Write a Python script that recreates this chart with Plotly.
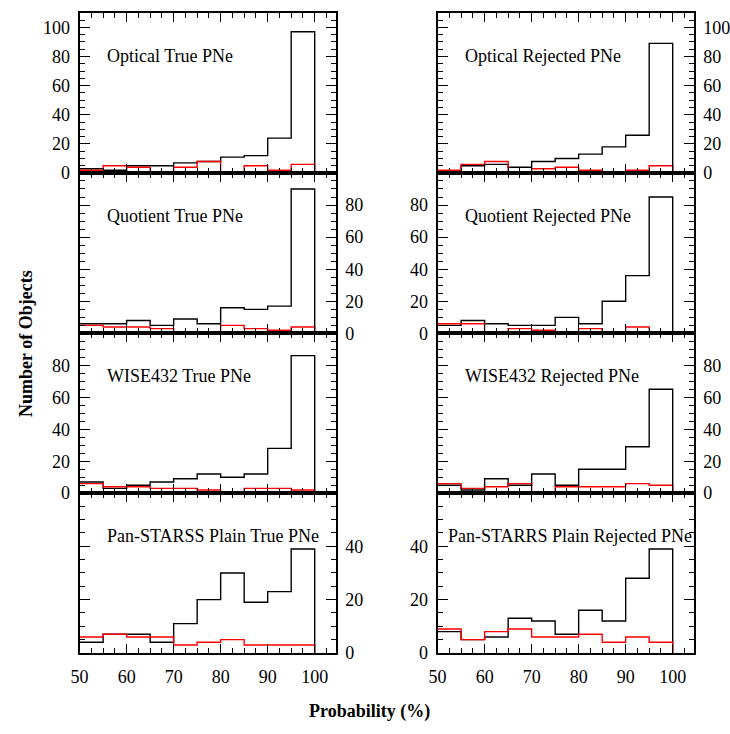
import plotly.graph_objects as go

# Bin edges (probability, %)
bin_edges = [50, 55, 60, 65, 70, 75, 80, 85, 90, 95, 100]

# Panel titles (row-major: left column, right column)
panel_titles = [
    "Optical True PNe", "Optical Rejected PNe",
    "Quotient True PNe", "Quotient Rejected PNe",
    "WISE432 True PNe", "WISE432 Rejected PNe",
    "Pan-STARSS Plain True PNe", "Pan-STARRS Plain Rejected PNe",
]

# Counts per bin: black histograms
optical_true_black = [3, 2, 5, 5, 7, 8, 11, 12, 24, 97]
optical_rej_black = [1, 5, 6, 4, 8, 10, 13, 18, 26, 89]
quotient_true_black = [6, 6, 8, 5, 9, 6, 16, 15, 17, 90]
quotient_rej_black = [5, 8, 6, 5, 5, 10, 6, 20, 36, 85]
wise_true_black = [7, 3, 5, 7, 9, 12, 10, 12, 28, 86]
wise_rej_black = [5, 2, 9, 5, 12, 5, 15, 15, 29, 65]
pan_true_black = [4, 7, 7, 4, 11, 20, 30, 19, 23, 39]
pan_rej_black = [8, 5, 6, 13, 12, 7, 16, 12, 28, 39]

# Counts per bin: red histograms
optical_true_red = [2, 5, 4, 1, 4, 8, 1, 5, 2, 6]
optical_rej_red = [2, 6, 8, 0, 3, 4, 2, 1, 2, 5]
quotient_true_red = [5, 4, 4, 3, 1, 1, 5, 3, 2, 4]
quotient_rej_red = [6, 6, 1, 3, 2, 0, 3, 0, 4, 0]
wise_true_red = [6, 4, 4, 3, 3, 2, 1, 3, 3, 2]
wise_rej_red = [6, 3, 4, 6, 1, 4, 4, 4, 6, 5]
pan_true_red = [6, 7, 6, 6, 3, 4, 5, 3, 3, 3]
pan_rej_red = [9, 5, 8, 9, 6, 6, 7, 4, 6, 4]

black_series = [optical_true_black, optical_rej_black, quotient_true_black, quotient_rej_black,
                wise_true_black, wise_rej_black, pan_true_black, pan_rej_black]
red_series = [optical_true_red, optical_rej_red, quotient_true_red, quotient_rej_red,
              wise_true_red, wise_rej_red, pan_true_red, pan_rej_red]

# y-axis ranges per row
row_ymax = [110, 99.9, 99.9, 59.9]

FONT = "Liberation Serif, Times New Roman, serif"
W, H = 730, 734

col_px = [(72, 333), (437, 698)]
row_px = [(13, 175.5), (175.5, 338), (338, 500), (500, 662)]


def step_xy(counts):
    xs = list(bin_edges[:-1]) + [bin_edges[-1], bin_edges[-1]]
    ys = list(counts) + [counts[-1], 0]
    return xs, ys


fig = go.Figure()
layout = dict(
    width=W, height=H,
    margin=dict(l=0, r=0, t=0, b=0),
    paper_bgcolor="white", plot_bgcolor="white",
    showlegend=False,
    font=dict(family=FONT, size=18, color="black"),
)

annotations = []
for i in range(8):
    r, c = divmod(i, 2)
    n = i + 1
    xa = "x" if n == 1 else f"x{n}"
    ya = "y" if n == 1 else f"y{n}"
    for series, color in ((black_series[i], "black"), (red_series[i], "#ff0000")):
        xs, ys = step_xy(series)
        fig.add_trace(go.Scatter(x=xs, y=ys, mode="lines", line=dict(color=color, width=1.4, shape="hv"),
                                 xaxis=xa, yaxis=ya, hoverinfo="skip"))
    x0, x1 = col_px[c]
    y0, y1 = row_px[r]
    label_side = ["left", "right"][(r + c) % 2]
    layout["xaxis" if n == 1 else f"xaxis{n}"] = dict(
        domain=[x0 / W, x1 / W], anchor=ya, range=[50, 104.45],
        showgrid=False, zeroline=False, showline=True, linecolor="black", linewidth=2, mirror="ticks",
        ticks="inside", ticklen=9, tickwidth=1, tickcolor="black", dtick=10, tick0=50,
        minor=dict(dtick=2.5, tick0=50, ticklen=5, tickwidth=1, tickcolor="black", ticks="inside"),
        showticklabels=(r == 3), tickfont=dict(family=FONT, size=18, color="black"),
        ticklabelstandoff=6,
    )
    layout["yaxis" if n == 1 else f"yaxis{n}"] = dict(
        domain=[1 - y1 / H, 1 - y0 / H], anchor=xa, range=[0, row_ymax[r]], side=label_side,
        showgrid=False, zeroline=False, showline=True, linecolor="black", linewidth=2, mirror="ticks",
        ticks="inside", ticklen=10, tickwidth=1, tickcolor="black", dtick=20, tick0=0,
        minor=dict(dtick=5, tick0=0, ticklen=5, tickwidth=1, tickcolor="black", ticks="inside"),
        tickfont=dict(family=FONT, size=18, color="black"), ticklabelstandoff=4,
    )
    annotations.append(dict(
        text=panel_titles[i], xref=f"{xa} domain", yref=f"{ya} domain",
        x=0.034 if i == 7 else 0.1, y=0.732, xanchor="left", yanchor="middle",
        showarrow=False, font=dict(family=FONT, size=18, color="black"),
    ))

annotations.append(dict(text="<b>Number of Objects</b>", xref="paper", yref="paper",
                        x=18 / W, y=1 - 348 / H, textangle=-90, showarrow=False,
                        xanchor="center", yanchor="middle", font=dict(family=FONT, size=18, color="black")))
annotations.append(dict(text="<b>Probability (%)</b>", xref="paper", yref="paper",
                        x=368 / W, y=1 - 721 / H, showarrow=False,
                        xanchor="center", yanchor="middle", font=dict(family=FONT, size=18, color="black")))
layout["annotations"] = annotations

fig.update_layout(**layout)
fig.write_html("out.html", config={"displayModeBar": False},
               post_script="document.body.style.margin='0';document.body.style.overflow='hidden';")
